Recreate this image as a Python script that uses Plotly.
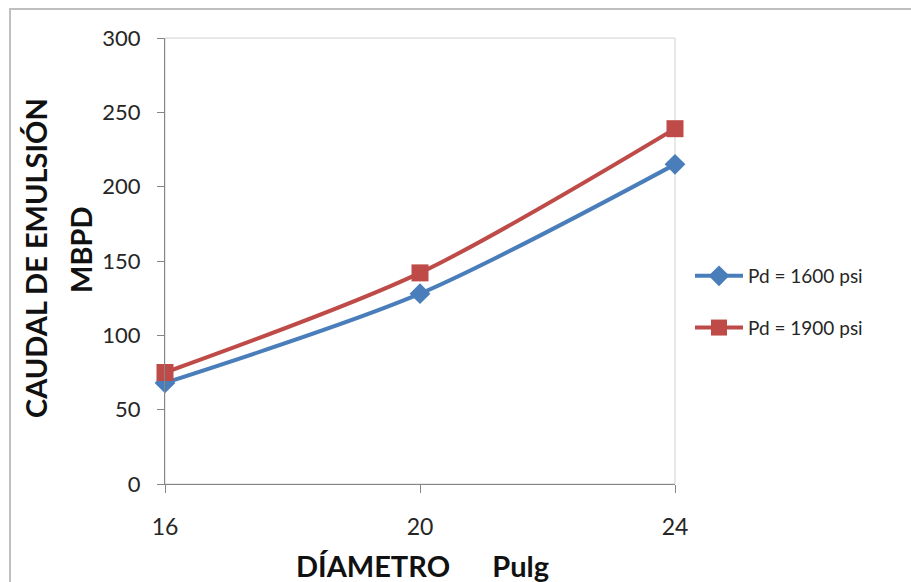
import plotly.graph_objects as go

# Data: emulsion flow rate (MBPD) versus pipe diameter (in) at two discharge pressures
diametro = [16, 20, 24]
caudal_1600 = [68, 128, 215]
caudal_1900 = [75, 142, 239]
nombres = ["Pd = 1600 psi", "Pd = 1900 psi"]
y_ticks = [0, 50, 100, 150, 200, 250, 300]

W, H = 911, 582
L, R, T, B = 165, 675, 38, 484   # plot area in pixels


def px_x(x):
    return (x - L) / (R - L)


def px_y(y):
    return (B - y) / (B - T)


fig = go.Figure()
fig.add_trace(go.Scatter(
    x=diametro, y=caudal_1600, name=nombres[0], legendgroup="a",
    mode="lines+markers", cliponaxis=False,
    line=dict(color="#4A7EBB", width=4, shape="spline", smoothing=0.8),
    marker=dict(symbol="diamond", size=16, color="#4A7EBB", line=dict(width=0)),
))
fig.add_trace(go.Scatter(
    x=diametro, y=caudal_1900, name=nombres[1], legendgroup="b",
    mode="lines+markers", cliponaxis=False,
    line=dict(color="#BE4B48", width=4, shape="spline", smoothing=0.8),
    marker=dict(symbol="square", size=17, color="#BE4B48", line=dict(width=0)),
))

axis_gray = "#868686"
fig.update_xaxes(
    range=[16, 24], tickvals=diametro, ticktext=[str(v) for v in diametro],
    showgrid=False, zeroline=False, showline=True, linecolor=axis_gray, linewidth=1,
    ticks="outside", ticklen=8, tickcolor=axis_gray, ticklabelstandoff=14,
    tickfont=dict(family="Lato", size=23, color="#262626"),
)
fig.update_yaxes(
    range=[0, 300], tickvals=y_ticks,
    showgrid=False, zeroline=False, showline=True, linecolor=axis_gray, linewidth=1,
    ticks="outside", ticklen=7, tickcolor=axis_gray, ticklabelstandoff=12,
    tickfont=dict(family="Lato", size=22, color="#262626"),
)

shapes = [
    # outer chart frame
    dict(type="rect", xref="paper", yref="paper",
         x0=px_x(10), x1=px_x(W + 10), y0=px_y(H + 10), y1=px_y(9),
         line=dict(color="#BFBFBF", width=2), fillcolor="rgba(0,0,0,0)", layer="below"),
    # plot-area border
    dict(type="rect", xref="paper", yref="paper", x0=0, x1=1, y0=0, y1=1,
         line=dict(color="#D0D0D0", width=1), fillcolor="rgba(0,0,0,0)", layer="below"),
]

title_font = dict(family="Lato", size=29, color="#111111")
annotations = [
    dict(text="<b>CAUDAL DE EMULSIÓN</b>", textangle=-90, xref="paper", yref="paper",
         x=px_x(35), y=px_y(258), xanchor="center", yanchor="middle",
         showarrow=False, font=title_font),
    dict(text="<b>MBPD</b>", textangle=-90, xref="paper", yref="paper",
         x=px_x(80), y=px_y(250), xanchor="center", yanchor="middle",
         showarrow=False, font=title_font),
    dict(text="<b>DÍAMETRO" + "\u00a0" * 6 + "Pulg</b>", xref="paper", yref="paper",
         x=px_x(422), y=px_y(565), xanchor="center", yanchor="middle",
         showarrow=False, font=dict(family="Lato", size=29, color="#111111")),
]

fig.update_layout(
    width=W, height=H,
    margin=dict(l=L, r=W - R, t=T, b=H - B, pad=0),
    paper_bgcolor="white", plot_bgcolor="white",
    showlegend=True,
    legend=dict(
        x=px_x(690), y=px_y(257), xanchor="left", yanchor="top",
        traceorder="grouped", tracegroupgap=24, itemwidth=48,
        font=dict(family="Lato", size=19, color="#262626"),
        bgcolor="rgba(0,0,0,0)",
    ),
    shapes=shapes,
    annotations=annotations,
)

fig.write_html("out.html")
